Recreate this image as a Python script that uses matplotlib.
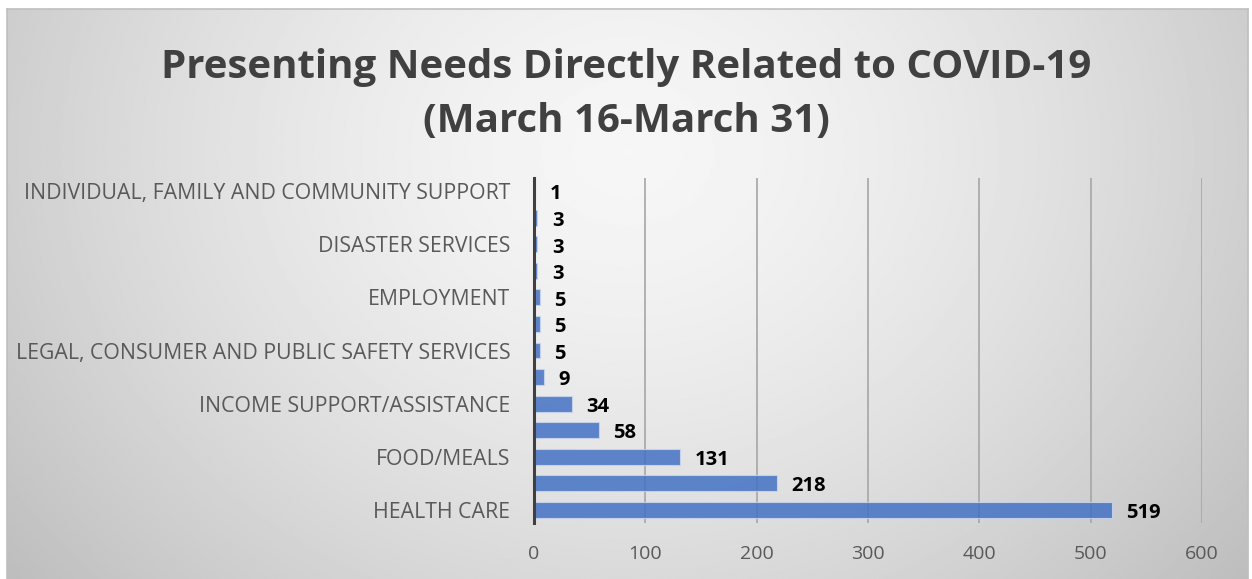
import matplotlib.pyplot as plt
import numpy as np

# Presenting needs, bottom row first (unlabelled rows are every other category)
categories = ["HEALTH CARE", "", "FOOD/MEALS", "", "INCOME SUPPORT/ASSISTANCE", "",
              "LEGAL, CONSUMER AND PUBLIC SAFETY SERVICES", "", "EMPLOYMENT", "",
              "DISASTER SERVICES", "", "INDIVIDUAL, FAMILY AND COMMUNITY SUPPORT"]
counts = [519, 218, 131, 58, 34, 9, 5, 5, 5, 3, 3, 3, 1]
x_ticks = [0, 100, 200, 300, 400, 500, 600]

fig = plt.figure(figsize=(12.52, 5.79), dpi=100)

# grey radial background
bg = fig.add_axes([0.0056, 0, 0.9912, 0.984])
yy, xx = np.mgrid[0:1:300j, 0:1:600j]
r = np.sqrt(((xx - 0.5) / 0.6) ** 2 + ((yy - 0.25) / 1.1) ** 2)
shade = 0.965 - 0.2 * np.clip(r, 0, 1.1) ** 1.5
bg.imshow(shade, cmap="gray", vmin=0, vmax=1, aspect="auto", extent=[0, 1, 1, 0])
bg.set_xticks([])
bg.set_yticks([])
for s in bg.spines.values():
    s.set_color("#bfbfbf")
    s.set_linewidth(1.2)
bg.spines["bottom"].set_visible(False)
bg.set_zorder(-1)

ax = fig.add_axes([534 / 1252, 1 - 523 / 579, 668 / 1252, 345 / 579])
ax.patch.set_alpha(0)
y = np.arange(len(counts))
ax.barh(y, counts, height=0.6, color="#4472c4", alpha=0.85,
        edgecolor="#c9d6ee", linewidth=0.8, zorder=3)
for yi, v in zip(y, counts):
    ax.text(v + 13, yi - 0.12, str(v), va="center", ha="left",
            fontsize=14.5, fontweight="bold", color="black", family="Open Sans")

ax.set_xlim(0, 600)
ax.set_ylim(-0.5, len(counts) - 0.5)
ax.set_xticks(x_ticks)
ax.set_xticklabels([str(t) for t in x_ticks], fontsize=14, color="#595959", family="Open Sans")
ax.set_yticks(y)
ax.set_yticklabels(categories, fontsize=15.3, color="#595959", family="Open Sans")
ax.tick_params(length=0, pad=16, axis="x")
ax.tick_params(length=0, pad=17, axis="y")
ax.xaxis.grid(True, color="#a6a6a6", linewidth=1.2, zorder=0)
ax.set_axisbelow(True)
for side in ["top", "right", "bottom"]:
    ax.spines[side].set_visible(False)
ax.spines["left"].set_color("#404040")
ax.spines["left"].set_linewidth(2.2)
ax.spines["left"].set_zorder(4)

fig.text(0.5, 0.837, "Presenting Needs Directly Related to COVID-19\n(March 16-March 31)",
         ha="center", va="center", fontsize=29, fontweight="bold", color="#404040",
         family="Open Sans", linespacing=1.52)

fig.savefig("out.png", dpi=100)
